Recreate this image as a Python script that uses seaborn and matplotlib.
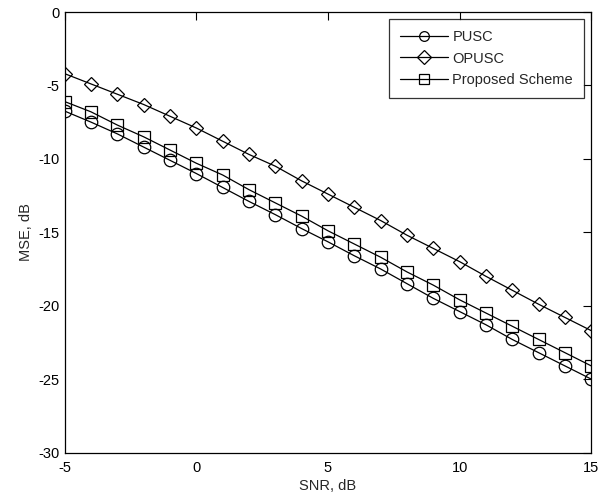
import numpy as np
import pandas as pd
import matplotlib
matplotlib.use("Agg")
import matplotlib.pyplot as plt
import seaborn as sns

# data
snr = list(range(-5, 16))
pusc = [-6.75, -7.5, -8.3, -9.2, -10.1, -11.0, -11.95, -12.9, -13.8, -14.75, -15.65,
        -16.6, -17.5, -18.5, -19.5, -20.4, -21.3, -22.3, -23.2, -24.1, -25.0]
opusc = [-4.2, -4.9, -5.6, -6.3, -7.1, -7.9, -8.8, -9.7, -10.5, -11.5, -12.4,
         -13.3, -14.2, -15.2, -16.1, -17.0, -18.0, -18.95, -19.9, -20.8, -21.7]
proposed = [-6.1, -6.8, -7.7, -8.5, -9.4, -10.3, -11.1, -12.1, -13.0, -13.9, -14.9,
            -15.8, -16.7, -17.7, -18.6, -19.6, -20.5, -21.4, -22.3, -23.2, -24.1]
names = ["PUSC", "OPUSC", "Proposed Scheme"]

df = pd.DataFrame({
    "SNR": snr * 3,
    "MSE": pusc + opusc + proposed,
    "scheme": [n for n in names for _ in snr],
})

sns.set_style("white")
plt.rcParams["font.family"] = ["Liberation Sans", "DejaVu Sans"]
plt.rcParams["font.size"] = 10.5
plt.rcParams["axes.unicode_minus"] = False

fig, ax = plt.subplots(figsize=(5.99, 5.0), dpi=100)
sns.lineplot(data=df, x="SNR", y="MSE", hue="scheme", style="scheme",
             palette=["black"] * 3, markers=["o", "D", "s"], dashes=False,
             markersize=9, markerfacecolor="none", markeredgecolor="black",
             markeredgewidth=0.9, linewidth=0.9, ax=ax)

# shrink diamonds a bit to look like MATLAB's
for line in ax.lines:
    if line.get_marker() == "D":
        line.set_markersize(7.5)

ax.set_xlim(-5, 15)
ax.set_ylim(-30, 0)
ax.set_xticks([-5, 0, 5, 10, 15])
ax.set_yticks([-30, -25, -20, -15, -10, -5, 0])
ax.set_xlabel("SNR, dB", labelpad=3, fontsize=10.5)
ax.set_ylabel("MSE, dB", labelpad=4, fontsize=10.5)
ax.tick_params(direction="in", top=True, right=True, length=6, width=0.8, labelsize=10.5,
               colors="black")
ax.tick_params(axis="x", pad=6)
for s in ax.spines.values():
    s.set_linewidth(0.9)
    s.set_color("black")

leg = ax.legend(loc="upper right", frameon=True, fancybox=False, edgecolor="black",
                fontsize=10.5, handlelength=3.3, handletextpad=0.3, borderpad=0.75,
                borderaxespad=0.5, labelspacing=0.5)
leg.get_frame().set_linewidth(0.9)
for h in leg.legend_handles:
    h.set_markerfacecolor("none")
    h.set_markeredgecolor("black")
    h.set_markersize(7)

fig.subplots_adjust(left=0.108, right=0.987, top=0.976, bottom=0.095)
fig.savefig("out.png", dpi=100)
